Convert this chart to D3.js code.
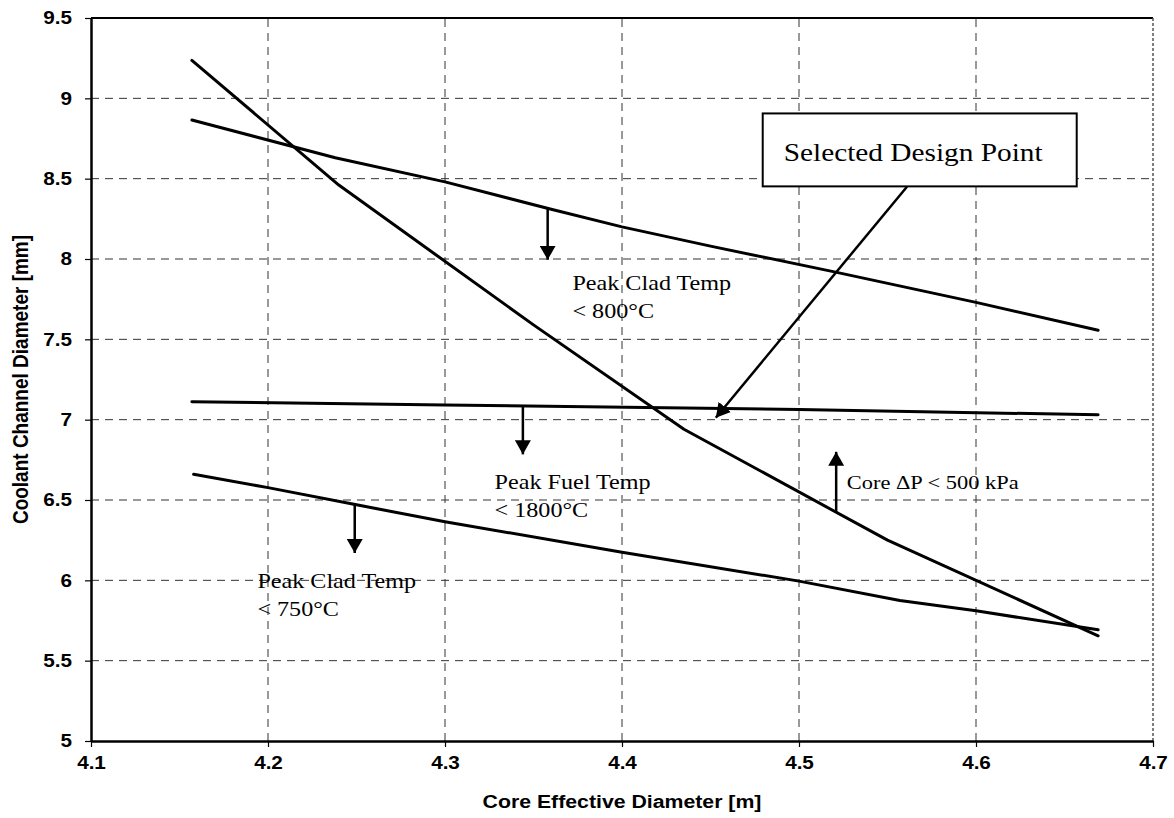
<!DOCTYPE html>
<html>
<head>
<meta charset="utf-8">
<script src="https://cdn.jsdelivr.net/npm/d3@7"></script>
<style>
  body { margin: 0; background: #fff; }
  svg { display: block; }
</style>
</head>
<body>
<svg id="chart" width="1174" height="818"></svg>
<script>
// Axis ticks
const xTicks = [4.1, 4.2, 4.3, 4.4, 4.5, 4.6, 4.7];
const yTicks = [5, 5.5, 6, 6.5, 7, 7.5, 8, 8.5, 9, 9.5];

// Design constraint curves: [core effective diameter (m), coolant channel diameter (mm)]
const pressureDrop500 = [[4.157, 9.236], [4.24, 8.46], [4.35, 7.59], [4.435, 6.94], [4.55, 6.25], [4.669, 5.655]];
const cladTemp800 = [[4.157, 8.865], [4.238, 8.63], [4.30, 8.48], [4.36, 8.31], [4.40, 8.20], [4.45, 8.08], [4.52, 7.92], [4.60, 7.73], [4.669, 7.557]];
const fuelTemp1800 = [[4.157, 7.112], [4.30, 7.092], [4.50, 7.064], [4.669, 7.03]];
const cladTemp750 = [[4.158, 6.66], [4.20, 6.577], [4.25, 6.47], [4.30, 6.365], [4.40, 6.175], [4.50, 5.995], [4.557, 5.875], [4.60, 5.81], [4.669, 5.692]];

// Constraint labels
const labelLines = [
  ["Peak Clad Temp", "< 800°C"],
  ["Peak Fuel Temp", "< 1800°C"],
  ["Peak Clad Temp", "< 750°C"],
  ["Core ΔP < 500 kPa"]
];
const designPointLabel = "Selected Design Point";

const svg = d3.select("#chart");
const margin = { left: 91, right: 21, top: 18, bottom: 77 };
const W = 1174, H = 818;
const STRETCH = 1.15;   // glyphs are drawn slightly wide
const sans = "'Liberation Sans', Arial, sans-serif";
const serif = "'Liberation Serif', 'Times New Roman', serif";

const x = d3.scaleLinear().domain([4.1, 4.7]).range([margin.left, W - margin.right]);
const y = d3.scaleLinear().domain([5, 9.5]).range([H - margin.bottom, margin.top]);

// Text with a horizontal stretch applied around its anchor point
function wideText(parent, px, py, str, opts) {
  const g = parent.append("g").attr("transform", `translate(${px},${py}) scale(${STRETCH},1)`);
  return g.append("text")
    .attr("x", 0).attr("y", 0)
    .attr("text-anchor", opts.anchor || "start")
    .style("font-family", opts.family)
    .style("font-weight", opts.weight || "normal")
    .style("font-size", opts.size + "px")
    .attr("fill", "#000")
    .text(str);
}

// Arrowhead marker
svg.append("defs").append("marker")
  .attr("id", "head")
  .attr("viewBox", "0 0 14 16")
  .attr("refX", 14).attr("refY", 8)
  .attr("markerWidth", 14).attr("markerHeight", 16)
  .attr("markerUnits", "userSpaceOnUse")
  .attr("orient", "auto")
  .append("path")
  .attr("d", "M0,0 L14,8 L0,16 Z")
  .attr("fill", "#000");

// Gridlines
const grid = svg.append("g").attr("class", "grid");
grid.selectAll("line.h").data(yTicks.slice(1, -1)).join("line")
  .attr("class", "h")
  .attr("x1", x(4.1)).attr("x2", x(4.7))
  .attr("y1", d => y(d)).attr("y2", d => y(d))
  .attr("stroke", "#333").attr("stroke-width", 1)
  .attr("stroke-dasharray", "8,6");
grid.selectAll("line.v").data(xTicks.slice(1, -1)).join("line")
  .attr("class", "v")
  .attr("y1", y(5)).attr("y2", y(9.5))
  .attr("x1", d => x(d)).attr("x2", d => x(d))
  .attr("stroke", "#333").attr("stroke-width", 1)
  .attr("stroke-dasharray", "8,6");

// Frame: top and right edges
svg.append("line")
  .attr("x1", x(4.1)).attr("x2", x(4.7)).attr("y1", y(9.5)).attr("y2", y(9.5))
  .attr("stroke", "#000").attr("stroke-width", 1.8);
svg.append("line")
  .attr("x1", x(4.7)).attr("x2", x(4.7)).attr("y1", y(9.5)).attr("y2", y(5))
  .attr("stroke", "#555").attr("stroke-width", 1.5).attr("stroke-dasharray", "3,2");

// Axes
const xAxis = svg.append("g")
  .attr("transform", `translate(0,${y(5)})`)
  .call(d3.axisBottom(x).tickValues(xTicks).tickFormat(d3.format(".1f")).tickSize(6).tickSizeOuter(0));
const yAxis = svg.append("g")
  .attr("transform", `translate(${x(4.1)},0)`)
  .call(d3.axisLeft(y).tickValues(yTicks).tickFormat(d => String(d)).tickSize(6).tickSizeOuter(0));

[xAxis, yAxis].forEach(g => {
  g.select(".domain").attr("stroke", "#000").attr("stroke-width", 2.5);
  g.selectAll(".tick line").attr("stroke", "#000").attr("stroke-width", 1.2);
  g.selectAll(".tick text")
    .attr("fill", "#000")
    .attr("transform", `scale(${STRETCH},1)`)
    .style("font-family", sans)
    .style("font-weight", "bold")
    .style("font-size", "18px");
});
xAxis.selectAll(".tick text").attr("y", 9).attr("dy", "1.05em");
yAxis.selectAll(".tick text").attr("x", -19 / STRETCH);

// Axis titles
wideText(svg, (x(4.1) + x(4.7)) / 2, 808, "Core Effective Diameter [m]",
  { anchor: "middle", family: sans, weight: "bold", size: 18.5 });
svg.append("g")
  .attr("transform", `translate(28,${(y(5) + y(9.5)) / 2}) scale(${STRETCH},1) rotate(-90)`)
  .append("text")
  .attr("text-anchor", "middle")
  .style("font-family", sans)
  .style("font-weight", "bold").style("font-size", "19px")
  .text("Coolant Channel Diameter [mm]");

// Constraint curves
const line = d3.line().x(d => x(d[0])).y(d => y(d[1]));
svg.append("g").selectAll("path")
  .data([pressureDrop500, cladTemp800, fuelTemp1800, cladTemp750])
  .join("path")
  .attr("d", line)
  .attr("fill", "none")
  .attr("stroke", "#000")
  .attr("stroke-width", 3)
  .attr("stroke-linejoin", "round")
  .attr("stroke-linecap", "round");

// Direction arrows showing the allowed side of each constraint
const arrows = [
  { from: [4.358, 8.31], to: [4.358, 7.995] },
  { from: [4.344, 7.085], to: [4.344, 6.784] },
  { from: [4.249, 6.47], to: [4.249, 6.17] },
  { from: [4.521, 6.42], to: [4.521, 6.80] },
  { from: [4.561, 8.45], to: [4.453, 7.012] }
];
svg.append("g").selectAll("line")
  .data(arrows)
  .join("line")
  .attr("x1", d => x(d.from[0])).attr("y1", d => y(d.from[1]))
  .attr("x2", d => x(d.to[0])).attr("y2", d => y(d.to[1]))
  .attr("stroke", "#000").attr("stroke-width", 2.5)
  .attr("marker-end", "url(#head)");

// Constraint labels
const labelPos = [[4.372, 7.81], [4.328, 6.571], [4.194, 5.955], [4.527, 6.57]];
labelLines.forEach((lines, i) => {
  lines.forEach((s, j) => {
    wideText(svg, x(labelPos[i][0]), y(labelPos[i][1]) + j * 28, s,
      { family: serif, size: i === 3 ? 19.5 : 21 });
  });
});

// Selected design point callout box
const box = { x0: 4.4795, x1: 4.6569, y0: 8.906, y1: 8.452 };
svg.append("rect")
  .attr("x", x(box.x0)).attr("y", y(box.y0))
  .attr("width", x(box.x1) - x(box.x0)).attr("height", y(box.y1) - y(box.y0))
  .attr("fill", "#fff").attr("stroke", "#000").attr("stroke-width", 2);
wideText(svg, x(box.x0) + 21, y(box.y0) + 48, designPointLabel,
  { family: serif, size: 25.5 });
</script>
</body>
</html>
